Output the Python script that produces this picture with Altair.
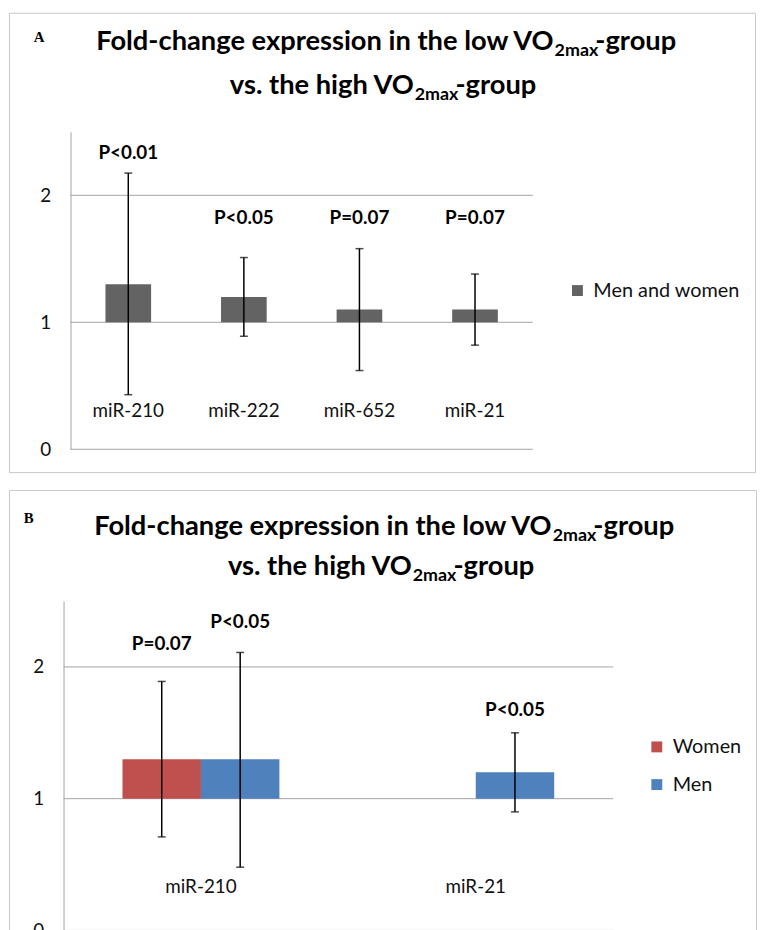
import altair as alt
import pandas as pd

# ---------------- data ----------------
# Panel A
cats_a = ["miR-210", "miR-222", "miR-652", "miR-21"]
fold_a = [1.30, 1.20, 1.10, 1.10]
err_lo_a = [0.43, 0.89, 0.62, 0.82]
err_hi_a = [2.175, 1.51, 1.58, 1.38]
p_text_a = ["P<0.01", "P<0.05", "P=0.07", "P=0.07"]
p_at_a = [2.33, 1.82, 1.82, 1.82]
series_a = ["Men and women"]

# Panel B
cats_b = ["miR-210", "miR-21"]
sexes_b = ["Women", "Men"]
bar_cat_b = ["miR-210", "miR-210", "miR-21"]
bar_sex_b = ["Women", "Men", "Men"]
fold_b = [1.30, 1.30, 1.20]
err_lo_b = [0.71, 0.48, 0.90]
err_hi_b = [1.89, 2.11, 1.50]
p_text_b = ["P=0.07", "P<0.05", "P<0.05"]
p_at_b = [2.17, 2.34, 1.67]

y_ticks = [0, 1, 2]
y_domain = [0, 2.5]

# ---------------- styles ----------------
GRAY_BAR = "#636363"
WOMEN = "#C0504D"
MEN = "#4F81BD"
GRID = "#A3A3A3"
BORDER = "#C8C8C8"
TXT = "#111111"
FONT = "Lato"
LAB = 19
LEG = 20
PFS = 19
TFS = 27.5
SFS = 18

df_a = pd.DataFrame({"cat": cats_a, "fold": fold_a, "lo": err_lo_a, "hi": err_hi_a,
                     "p": p_text_a, "p_at": p_at_a, "series": series_a * len(cats_a)})
df_b = pd.DataFrame({"cat": bar_cat_b, "sex": bar_sex_b, "fold": fold_b, "lo": err_lo_b,
                     "hi": err_hi_b, "p": p_text_b, "p_at": p_at_b})


def piece(s, x, y, size, align="left", weight="bold", font=FONT):
    return alt.Chart(pd.DataFrame({"k": [0]})).mark_text(
        text=s, align=align, baseline="alphabetic", font=font, fontSize=size,
        fontWeight=weight, color="black"
    ).encode(x=alt.value(x), y=alt.value(y))


def title_layers(letter, lx, ly, l1y, j1a, j1b, l2y, j2a, j2b):
    sub = 6
    return [
        piece(letter, lx, ly, 15, font="Liberation Serif"),
        piece("Fold-change expression in the low VO", j1a, l1y, TFS, align="right"),
        piece("2max", j1a + 1, l1y + sub, SFS),
        piece("-group", j1b, l1y, TFS),
        piece("vs. the high VO", j2a, l2y, TFS, align="right"),
        piece("2max", j2a + 1, l2y + sub, SFS),
        piece("-group", j2b, l2y, TFS),
    ]


def panel(df, cats, xr, yr, pad_in, w, h, color_field, color_dom, color_rng,
          legend, label_y, titles, xoff=None):
    xs = alt.Scale(domain=cats, range=xr, paddingInner=pad_in, paddingOuter=pad_in / 2)
    ys = alt.Scale(domain=y_domain, range=yr, nice=False, zero=False)
    yaxis = alt.Axis(values=y_ticks, offset=-xr[0], domainColor=GRID, domainWidth=1,
                     ticks=False, tickSize=0, labelPadding=20, labelFont=FONT,
                     labelFontSize=LAB, labelColor=TXT, grid=False, title=None, format="d")
    X = alt.X("cat:N", scale=xs, axis=None)
    extra = {}
    if xoff is not None:
        extra["xOffset"] = alt.XOffset(f"{xoff}:N", scale=alt.Scale(domain=color_dom,
                                       paddingInner=0, paddingOuter=0))

    grid = alt.Chart(pd.DataFrame({"v": y_ticks})).mark_rule(color=GRID, strokeWidth=1).encode(
        y=alt.Y("v:Q", scale=ys, axis=yaxis), x=alt.value(xr[0]), x2=alt.value(xr[1]))

    base = alt.Chart(df)
    bars = base.mark_bar().encode(
        x=X, y=alt.Y("fold:Q", scale=ys, axis=yaxis), y2=alt.datum(1),
        color=alt.Color(f"{color_field}:N", scale=alt.Scale(domain=color_dom, range=color_rng),
                        legend=legend), **extra)
    err = base.mark_rule(color="black", strokeWidth=1.5).encode(
        x=X, y=alt.Y("lo:Q", scale=ys, axis=yaxis), y2="hi:Q", **extra)
    cap_lo = base.mark_tick(color="black", thickness=1.5, size=8).encode(
        x=X, y=alt.Y("lo:Q", scale=ys, axis=yaxis), **extra)
    cap_hi = base.mark_tick(color="black", thickness=1.5, size=8).encode(
        x=X, y=alt.Y("hi:Q", scale=ys, axis=yaxis), **extra)
    ptext = base.mark_text(font=FONT, fontWeight="bold", fontSize=PFS, baseline="middle",
                           color="black").encode(
        x=X, y=alt.Y("p_at:Q", scale=ys, axis=yaxis), text="p:N", **extra)
    clab = alt.Chart(pd.DataFrame({"cat": cats})).mark_text(
        font=FONT, fontSize=LAB, baseline="alphabetic", color=TXT).encode(
        x=X, y=alt.value(label_y), text="cat:N")

    return alt.layer(grid, bars, err, cap_lo, cap_hi, ptext, clab, *titles).properties(
        width=w, height=h)


legend_a = alt.Legend(orient="none", legendX=563, legendY=270, title=None, symbolType="square",
                      symbolSize=121, symbolStrokeWidth=0, labelFont=FONT, labelFontSize=LEG,
                      labelColor=TXT, labelOffset=6, padding=0)
legend_b = alt.Legend(orient="none", legendX=643, legendY=249, title=None, symbolType="square",
                      symbolSize=121, symbolStrokeWidth=0, labelFont=FONT, labelFontSize=LEG,
                      labelColor=TXT, labelOffset=6, padding=0, rowPadding=18)

panel_a = panel(df_a, cats_a, [62, 528], [440, 120], 0.605, 752, 463, "series", series_a,
                [GRAY_BAR], legend_a, 407,
                title_layers("A", 25, 29, 38, 549, 591, 82, 408, 450))

panel_b = panel(df_b, cats_b, [55, 609], [444, 112], 0.429, 753, 470, "sex", sexes_b,
                [WOMEN, MEN], legend_b, 406,
                title_layers("B", 15, 33, 45, 547, 589, 86, 406, 448), xoff="sex")

chart = alt.vconcat(panel_a, panel_b, spacing=16).resolve_scale(
    x="independent", y="independent", color="independent"
).resolve_legend(color="independent").properties(padding=0).configure_view(
    stroke=BORDER, strokeWidth=1)

chart.save("out.html", embed_options={"renderer": "svg", "actions": False})
